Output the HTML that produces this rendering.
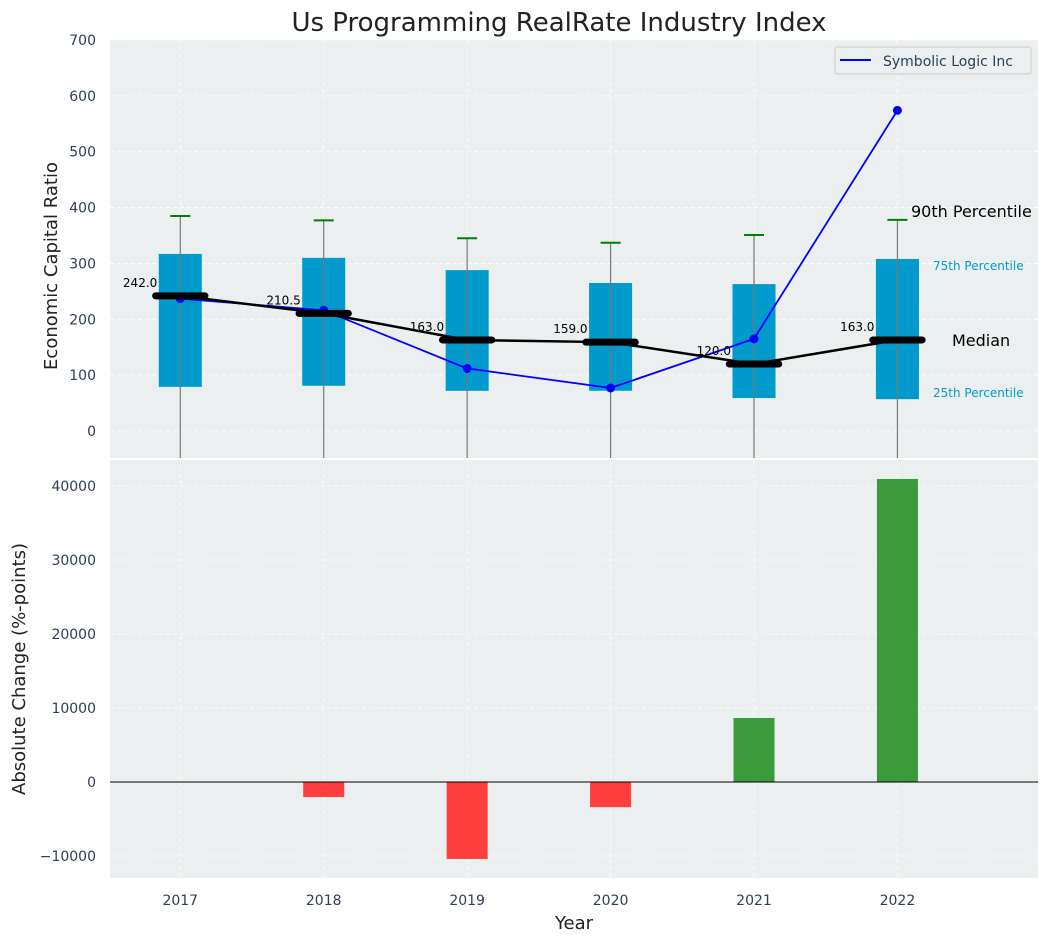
<!DOCTYPE html>
<html><head><meta charset="utf-8"><style>
body{margin:0;background:#fff;}
svg{font-family:"DejaVu Sans","Liberation Sans",sans-serif;}
</style></head><body>
<svg id="chart" width="1048" height="942" xmlns="http://www.w3.org/2000/svg"></svg>
<script>
const years=[2017,2018,2019,2020,2021,2022];
const q1=[79,81,72,72,59,57];
const q3=[317,310,288,265,263,308];
const p90=[385,377,345,337,351,378];
const medians=[242.0,210.5,163.0,159.0,120.0,163.0];
const company=[237,216,112,77,165,574];
const changes=[0,-2030,-10400,-3400,8650,40950];
const topTicks=[0,100,200,300,400,500,600,700];
const botTicks=[-10000,0,10000,20000,30000,40000];

const NS="http://www.w3.org/2000/svg";
const svg=document.getElementById('chart');
function mk(t,a,p){const e=document.createElementNS(NS,t);for(const k in a)e.setAttribute(k,a[k]);(p||svg).appendChild(e);return e;}
const L=110,R=1038;
const x=v=>L+(v-2016.51)/(2022.98-2016.51)*(R-L);
const T0=40,T1=458,B0=460,B1=878;
const yT=v=>431-v*(391/700);
const yB=v=>782-v*(296/40000);

let e=mk('rect',{x:L,y:T0,width:R-L,height:T1-T0,fill:'#ebeff0'});

e=mk('rect',{x:L,y:B0,width:R-L,height:B1-B0,fill:'#ebeff0'});


years.forEach(yr=>{
  mk('line',{x1:x(yr),x2:x(yr),y1:T0,y2:T1,stroke:'#fff','stroke-dasharray':'4,3','stroke-width':0.8});
  mk('line',{x1:x(yr),x2:x(yr),y1:B0,y2:B1,stroke:'#fff','stroke-dasharray':'4,3','stroke-width':0.8});
});
topTicks.forEach(t=>{
  mk('line',{x1:L,x2:R,y1:yT(t),y2:yT(t),stroke:'#fff','stroke-dasharray':'4,3','stroke-width':0.8});
  const tx=mk('text',{x:96,y:yT(t)+5,'text-anchor':'end','font-size':14,fill:'#2e3f55'});tx.textContent=t;
  
});
botTicks.forEach(t=>{
  mk('line',{x1:L,x2:R,y1:yB(t),y2:yB(t),stroke:'#fff','stroke-dasharray':'4,3','stroke-width':0.8});
  const tx=mk('text',{x:96,y:yB(t)+5,'text-anchor':'end','font-size':14,fill:'#2e3f55'});tx.textContent=t<0?'−'+Math.abs(t):t;
  
});

const defs=mk('defs',{});
const cp=mk('clipPath',{id:'ct'},defs);mk('rect',{x:L,y:T0,width:R-L,height:T1-T0},cp);
const g=mk('g',{'clip-path':'url(#ct)'});
const bw=(x(2017.15)-x(2016.85));
years.forEach((yr,i)=>{
  const r=mk('rect',{x:x(yr)-bw/2,y:yT(q3[i]),width:bw,height:yT(q1[i])-yT(q3[i]),fill:'#009acd'},g);
  
  mk('line',{x1:x(yr),x2:x(yr),y1:yT(p90[i]),y2:T1+5,stroke:'#777','stroke-width':1.2},g);
  const c=mk('line',{x1:x(yr)-10,x2:x(yr)+10,y1:yT(p90[i]),y2:yT(p90[i]),stroke:'#008000','stroke-width':2},g);
  
});
let pts=years.map((yr,i)=>x(yr)+','+yT(company[i])).join(' ');
e=mk('polyline',{points:pts,fill:'none',stroke:'#0000ff','stroke-width':1.8},g);

years.forEach((yr,i)=>{const c=mk('circle',{cx:x(yr),cy:yT(company[i]),r:4.5,fill:'#0000ff'},g);
  });
pts=years.map((yr,i)=>x(yr)+','+yT(medians[i])).join(' ');
e=mk('polyline',{points:pts,fill:'none',stroke:'#000','stroke-width':2.5},g);

const mw=x(2017.2)-x(2016.8);
years.forEach((yr,i)=>{
  const m=mk('line',{x1:x(yr)-mw/2+4,x2:x(yr)+mw/2-4,y1:yT(medians[i]),y2:yT(medians[i]),stroke:'#000','stroke-width':7,'stroke-linecap':'round'},g);
  
  const t=mk('text',{x:x(yr)-23,y:yT(medians[i])-9,'text-anchor':'end','font-size':12,fill:'#000'},g);t.textContent=medians[i].toFixed(1);
  
});
const ann=[['90th Percentile',911,217,16,'#000'],['75th Percentile',933,270,12,'#009acd'],['Median',952,346,16,'#000'],['25th Percentile',933,397,12,'#009acd']];
ann.forEach(a=>{const t=mk('text',{x:a[1],y:a[2],'font-size':a[3],fill:a[4]});t.textContent=a[0];
  });

const lg=mk('g',{});
mk('rect',{x:835,y:47,width:196,height:27,rx:3,fill:'#ebeff0',stroke:'#ccc'},lg);
mk('line',{x1:840,x2:871,y1:60,y2:60,stroke:'#0000ff','stroke-width':2},lg);
e=mk('text',{x:883,y:66,'font-size':14,fill:'#2e3f55'},lg);e.textContent='Symbolic Logic Inc';

const bbw=x(2017.143)-x(2016.857);
years.forEach((yr,i)=>{
  const v=changes[i];if(v===0)return;
  const r=mk('rect',{x:x(yr)-bbw/2,y:Math.min(yB(v),yB(0)),width:bbw,height:Math.abs(yB(v)-yB(0)),fill:v>0?'#3b9a3b':'#ff3e3e'});
  
});
mk('line',{x1:L,x2:R,y1:yB(0),y2:yB(0),stroke:'#000','stroke-width':1});
years.forEach(yr=>{const t=mk('text',{x:x(yr),y:905,'text-anchor':'middle','font-size':14,fill:'#2e3f55'});t.textContent=yr;
  });

e=mk('text',{x:559,y:31,'text-anchor':'middle','font-size':26,fill:'#222'});e.textContent='Us Programming RealRate Industry Index';

e=mk('text',{x:574,y:929,'text-anchor':'middle','font-size':18,fill:'#222'});e.textContent='Year';

e=mk('text',{x:57,y:266,'text-anchor':'middle','font-size':18,fill:'#222',transform:'rotate(-90 57 266)'});e.textContent='Economic Capital Ratio';

e=mk('text',{x:25,y:669,'text-anchor':'middle','font-size':18,fill:'#222',transform:'rotate(-90 25 669)'});e.textContent='Absolute Change (%-points)';

</script>
</body></html>
